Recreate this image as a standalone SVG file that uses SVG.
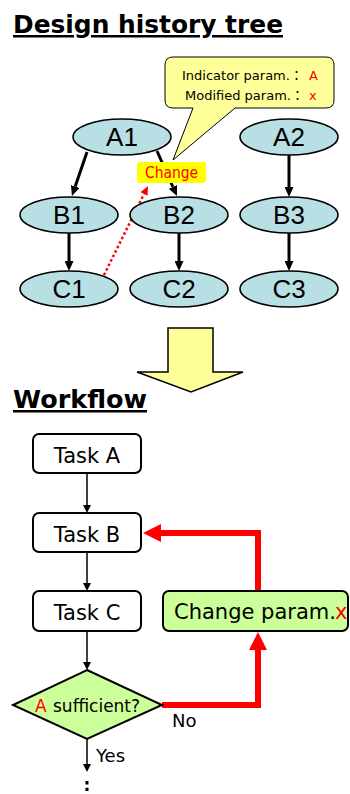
<svg xmlns="http://www.w3.org/2000/svg" width="350" height="794" viewBox="0 0 350 794">
  <defs>
    <style>
      .title { font-family: "DejaVu Sans", Verdana, sans-serif; font-weight: bold; font-size: 25px; fill: #000; text-decoration: underline; }
      .node { fill: #b8dfe3; stroke: #000; stroke-width: 1.5; }
      .nlabel { font-family: "Liberation Sans", Arial, sans-serif; font-size: 26px; fill: #000; text-anchor: middle; }
      .tree-edge { stroke: #000; stroke-width: 3; fill: none; }
      .flow-edge { stroke: #000; stroke-width: 1.5; fill: none; }
      .task { fill: #fff; stroke: #000; stroke-width: 2; }
      .green { fill: #ccff99; stroke: #000; stroke-width: 2; }
      .tlabel { font-family: "DejaVu Sans", Tahoma, sans-serif; font-size: 21px; fill: #000; }
      .small { font-family: "DejaVu Sans", Tahoma, "Noto Sans CJK JP", sans-serif; font-size: 13px; fill: #000; }
      .red { fill: #ff0000; }
      .loop { stroke: #ff0000; stroke-width: 6; fill: none; }
    </style>
    <marker id="treeHead" viewBox="0 0 10 9" refX="0" refY="4.5" markerWidth="10" markerHeight="9" markerUnits="userSpaceOnUse" orient="auto">
      <path d="M0,0 L10,4.5 L0,9 z" fill="#000"/>
    </marker>
    <marker id="flowHead" viewBox="0 0 8 8" refX="0" refY="4" markerWidth="8" markerHeight="8" markerUnits="userSpaceOnUse" orient="auto">
      <path d="M0,0 L8,4 L0,8 z" fill="#000"/>
    </marker>
    <marker id="redHead" viewBox="0 0 9 8" refX="0" refY="4" markerWidth="9" markerHeight="8" markerUnits="userSpaceOnUse" orient="auto">
      <path d="M0,0 L9,4 L0,8 z" fill="#ff0000"/>
    </marker>
  </defs>

  <rect width="350" height="794" fill="#fff"/>

  <!-- Section heading: history tree -->
  <text class="title" x="13" y="33" textLength="270" lengthAdjust="spacingAndGlyphs">Design history tree</text>

  <!-- Tree connectors -->
  <g id="tree-connectors">
    <line class="tree-edge" x1="87" y1="152" x2="75.2" y2="186.5" marker-end="url(#treeHead)"/>
    <line class="tree-edge" x1="157" y1="151" x2="172.9" y2="186.9" marker-end="url(#treeHead)"/>
    <line class="tree-edge" x1="289" y1="155" x2="289" y2="187" marker-end="url(#treeHead)"/>
    <line class="tree-edge" x1="69" y1="233" x2="69" y2="261" marker-end="url(#treeHead)"/>
    <line class="tree-edge" x1="179" y1="233" x2="179" y2="261" marker-end="url(#treeHead)"/>
    <line class="tree-edge" x1="289" y1="233" x2="289" y2="261" marker-end="url(#treeHead)"/>
    <line x1="104" y1="275" x2="144" y2="194" stroke="#ff0000" stroke-width="2.5" stroke-dasharray="2.5 2.5" marker-end="url(#redHead)"/>
  </g>

  <!-- Tree nodes -->
  <g id="A1"><ellipse class="node" cx="122" cy="137" rx="49" ry="18"/><text class="nlabel" x="122" y="146">A1</text></g>
  <g id="A2"><ellipse class="node" cx="289" cy="137" rx="49" ry="18"/><text class="nlabel" x="289" y="146">A2</text></g>
  <g id="B1"><ellipse class="node" cx="69" cy="215" rx="49" ry="18"/><text class="nlabel" x="69" y="224">B1</text></g>
  <g id="B2"><ellipse class="node" cx="179" cy="215" rx="49" ry="18"/><text class="nlabel" x="179" y="224">B2</text></g>
  <g id="B3"><ellipse class="node" cx="289" cy="215" rx="49" ry="18"/><text class="nlabel" x="289" y="224">B3</text></g>
  <g id="C1"><ellipse class="node" cx="69" cy="289" rx="49" ry="18"/><text class="nlabel" x="69" y="298">C1</text></g>
  <g id="C2"><ellipse class="node" cx="179" cy="289" rx="49" ry="18"/><text class="nlabel" x="179" y="298">C2</text></g>
  <g id="C3"><ellipse class="node" cx="289" cy="289" rx="49" ry="18"/><text class="nlabel" x="289" y="298">C3</text></g>

  <!-- Change tag -->
  <g id="change-tag">
    <rect x="137" y="162" width="69" height="21" rx="3" fill="#ffff00"/>
    <text x="171.5" y="178" text-anchor="middle" font-family="DejaVu Sans, Tahoma, sans-serif" font-size="15" fill="#ff0000" textLength="53" lengthAdjust="spacingAndGlyphs">Change</text>
  </g>

  <!-- Callout -->
  <g id="callout">
    <path d="M173,57 H326 Q334,57 334,65 V100 Q334,108 326,108 H235 L173,160 L193,108 H173 Q165,108 165,100 V65 Q165,57 173,57 Z" fill="#ffff99" stroke="#000" stroke-width="1"/>
    <text class="small" x="182" y="80">Indicator param.：</text>
    <text class="small red" x="309" y="80" font-size="14">A</text>
    <text class="small" x="185" y="100">Modified param.：</text>
    <text class="small red" x="309" y="100" font-size="14">x</text>
  </g>

  <!-- Transition arrow -->
  <g id="big-arrow">
    <polygon points="168,328 213,328 213,372 243,372 191,392 137,372 168,372" fill="#ffff99" stroke="#000" stroke-width="1.5"/>
  </g>

  <!-- Section heading: workflow -->
  <text class="title" x="13" y="408" textLength="134" lengthAdjust="spacingAndGlyphs">Workflow</text>

  <!-- Workflow connectors -->
  <g id="flow-connectors">
    <line class="flow-edge" x1="87" y1="473" x2="87" y2="505" marker-end="url(#flowHead)"/>
    <line class="flow-edge" x1="87" y1="552" x2="87" y2="583" marker-end="url(#flowHead)"/>
    <line class="flow-edge" x1="87" y1="631" x2="87" y2="662" marker-end="url(#flowHead)"/>
    <line class="flow-edge" x1="87" y1="739" x2="87" y2="764" marker-end="url(#flowHead)"/>
    <polyline class="loop" points="162,705 258,705 258,649"/>
    <polygon class="red" points="249,650 267,650 258,632"/>
    <polyline class="loop" points="258,591 258,533 160,533"/>
    <polygon class="red" points="161,524 161,542 143,533"/>
  </g>

  <!-- Workflow nodes -->
  <g id="task-a"><rect class="task" x="33" y="434" width="108" height="39" rx="6"/><text class="tlabel" x="87" y="463" text-anchor="middle">Task A</text></g>
  <g id="task-b"><rect class="task" x="33" y="513" width="108" height="39" rx="6"/><text class="tlabel" x="87" y="542" text-anchor="middle">Task B</text></g>
  <g id="task-c"><rect class="task" x="33" y="591" width="108" height="40" rx="6"/><text class="tlabel" x="87" y="620" text-anchor="middle">Task C</text></g>
  <g id="change-param">
    <rect class="green" x="163" y="591" width="185" height="40" rx="6"/>
    <text class="tlabel" x="174" y="619" font-size="19">Change param.</text>
    <text class="tlabel red" x="335" y="619" font-size="20">x</text>
  </g>
  <g id="decision">
    <polygon class="green" points="87,670 162,705 87,739 13,705" stroke-width="1.5"/>
    <text x="35" y="712" font-family="DejaVu Sans, Tahoma, sans-serif" font-size="17" fill="#ff0000">A</text>
    <text x="53" y="712" font-family="DejaVu Sans, Tahoma, sans-serif" font-size="17" fill="#000">sufficient?</text>
  </g>

  <!-- Branch labels -->
  <text x="172" y="727" font-family="DejaVu Sans, Tahoma, sans-serif" font-size="18" fill="#000">No</text>
  <text x="96" y="762" font-family="DejaVu Sans, Tahoma, sans-serif" font-size="18" fill="#000">Yes</text>
  <text x="87" y="791" text-anchor="middle" font-family="DejaVu Sans, Tahoma, sans-serif" font-size="17" font-weight="bold" fill="#000">:</text>
</svg>
